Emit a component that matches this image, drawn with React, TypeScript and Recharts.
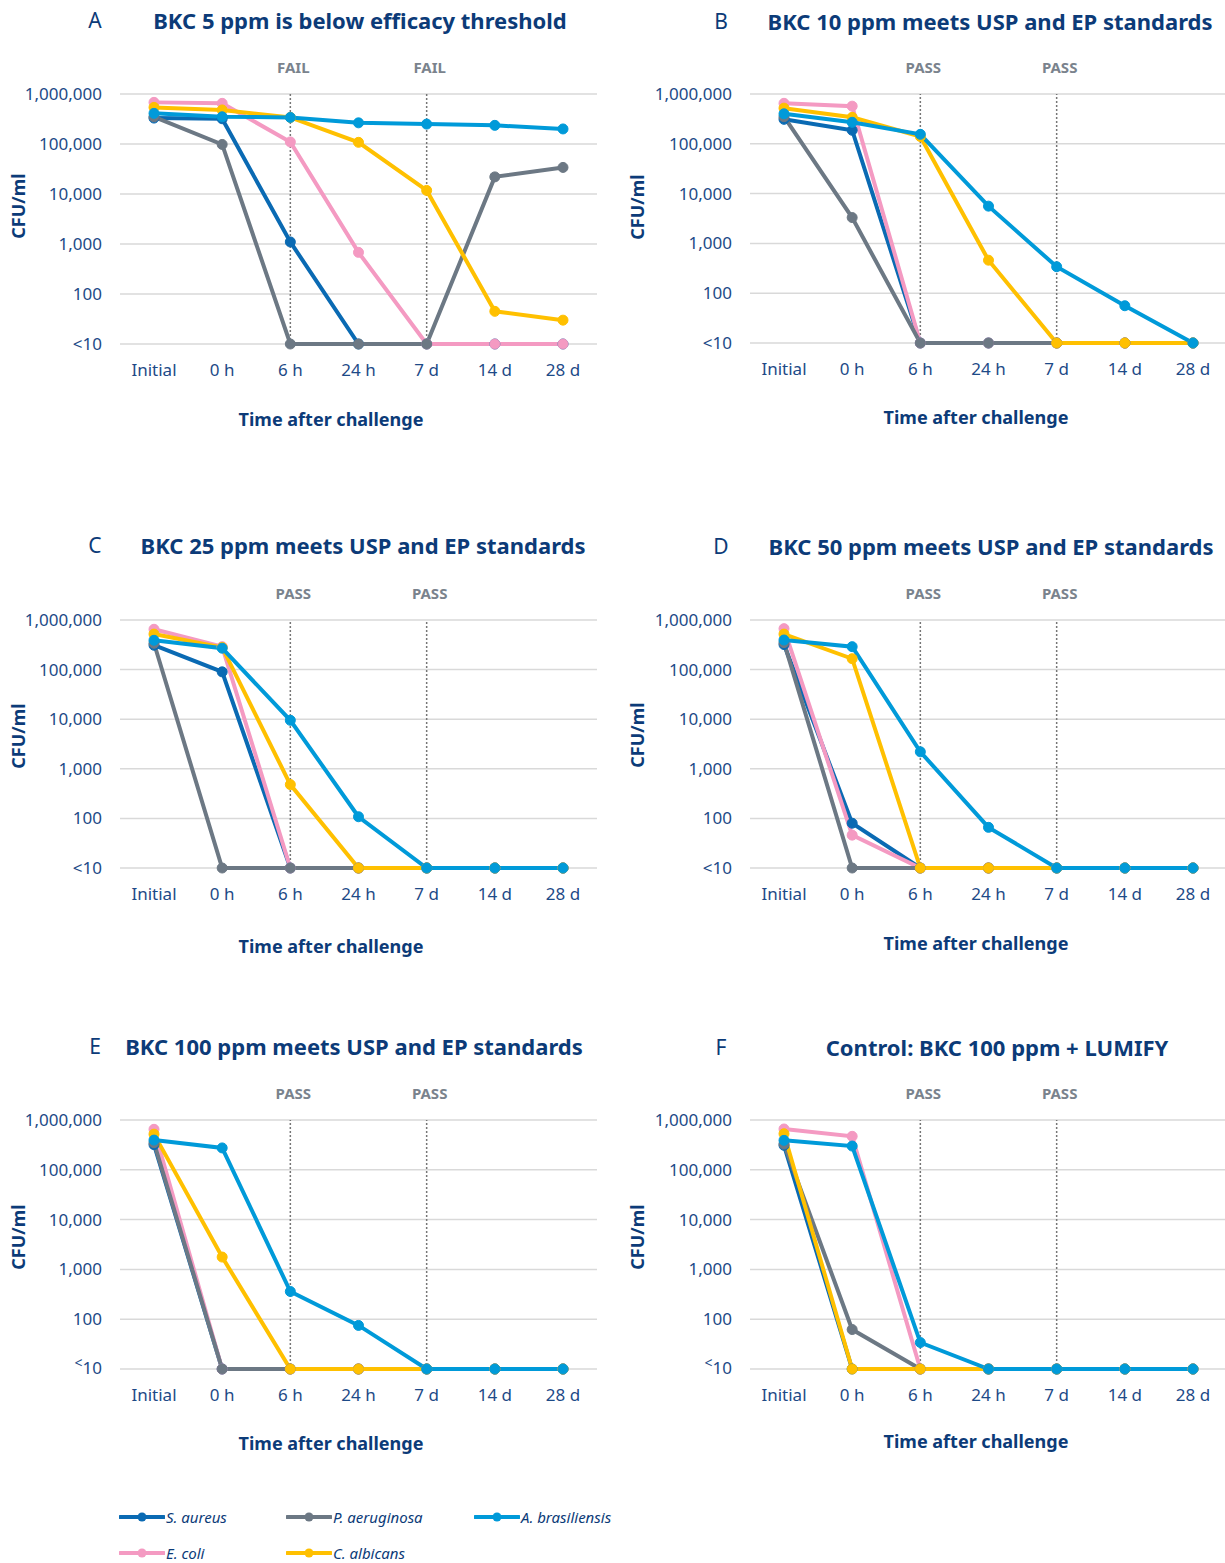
import React from "react";
import { LineChart, Line, XAxis, YAxis, CartesianGrid, ReferenceLine } from "recharts";

// Preservative efficacy: CFU/ml over time after challenge, per organism

const categories = ["Initial", "0 h", "6 h", "24 h", "7 d", "14 d", "28 d"];
const yTicks = [10, 100, 1000, 10000, 100000, 1000000];

// A: BKC 5 ppm
const aureusA = [330000, 320000, 1100, 10, 10, 10, 10];
const aeruginosaA = [350000, 98000, 10, 10, 10, 22000, 34000];
const brasiliensisA = [410000, 350000, 340000, 265000, 250000, 236000, 200000];
const coliA = [680000, 650000, 110000, 680, 10, 10, 10];
const albicansA = [540000, 480000, 340000, 108000, 11800, 45, 30];

// B: BKC 10 ppm
const aureusB = [310000, 187000, 10, 10, 10, 10, 10];
const aeruginosaB = [350000, 3300, 10, 10, 10, 10, 10];
const brasiliensisB = [400000, 270000, 155000, 5600, 340, 56, 10];
const coliB = [650000, 570000, 10, 10, 10, 10, 10];
const albicansB = [520000, 340000, 140000, 460, 10, 10, 10];

// C: BKC 25 ppm
const aureusC = [310000, 90000, 10, 10, 10, 10, 10];
const aeruginosaC = [340000, 10, 10, 10, 10, 10, 10];
const brasiliensisC = [390000, 270000, 9500, 108, 10, 10, 10];
const coliC = [650000, 290000, 10, 10, 10, 10, 10];
const albicansC = [520000, 280000, 480, 10, 10, 10, 10];

// D: BKC 50 ppm
const aureusD = [320000, 80, 10, 10, 10, 10, 10];
const aeruginosaD = [350000, 10, 10, 10, 10, 10, 10];
const brasiliensisD = [395000, 290000, 2200, 66, 10, 10, 10];
const coliD = [670000, 46, 10, 10, 10, 10, 10];
const albicansD = [520000, 166000, 10, 10, 10, 10, 10];

// E: BKC 100 ppm
const aureusE = [320000, 10, 10, 10, 10, 10, 10];
const aeruginosaE = [350000, 10, 10, 10, 10, 10, 10];
const brasiliensisE = [395000, 275000, 360, 75, 10, 10, 10];
const coliE = [650000, 10, 10, 10, 10, 10, 10];
const albicansE = [520000, 1770, 10, 10, 10, 10, 10];

// F: control, BKC 100 ppm + LUMIFY
const aureusF = [310000, 10, 10, 10, 10, 10, 10];
const aeruginosaF = [330000, 62, 10, 10, 10, 10, 10];
const brasiliensisF = [390000, 300000, 34, 10, 10, 10, 10];
const coliF = [660000, 470000, 10, 10, 10, 10, 10];
const albicansF = [530000, 10, 10, 10, 10, 10, 10];

const NAVY = "#0c3b78";
const TICK = "#1d4a87";
const FONT = "'Noto Sans', 'Open Sans', sans-serif";

// drawing order: bottom to top
const organisms = [
  { key: "aureus", name: "S. aureus", color: "#0a6ab3" },
  { key: "coli", name: "E. coli", color: "#f49ac2" },
  { key: "aeruginosa", name: "P. aeruginosa", color: "#6c7884" },
  { key: "albicans", name: "C. albicans", color: "#ffc000" },
  { key: "brasiliensis", name: "A. brasiliensis", color: "#009ad9" },
];
const legendOrder = ["aureus", "aeruginosa", "brasiliensis", "coli", "albicans"];

function buildRows(series: Record<string, number[]>) {
  return categories.map((t, i) => {
    const row: Record<string, string | number> = { t };
    Object.keys(series).forEach((k) => {
      row[k] = series[k][i];
    });
    return row;
  });
}

const panels = [
  {
    letter: "A", title: "BKC 5 ppm is below efficacy threshold", verdict: "FAIL",
    left: 0, plotTop: 94, plotH: 250, letterX: 95, titleX: 360, titleY: 20, axisX: 331, axisY: 419, ylabX: 18, ylabY: 206,
    rows: buildRows({ aureus: aureusA, aeruginosa: aeruginosaA, brasiliensis: brasiliensisA, coli: coliA, albicans: albicansA }),
  },
  {
    letter: "B", title: "BKC 10 ppm meets USP and EP standards", verdict: "PASS",
    left: 630, plotTop: 94, plotH: 249, letterX: 721, titleX: 990, titleY: 21, axisX: 976, axisY: 417, ylabX: 637, ylabY: 207,
    rows: buildRows({ aureus: aureusB, aeruginosa: aeruginosaB, brasiliensis: brasiliensisB, coli: coliB, albicans: albicansB }),
  },
  {
    letter: "C", title: "BKC 25 ppm meets USP and EP standards", verdict: "PASS",
    left: 0, plotTop: 620, plotH: 248, letterX: 95, titleX: 363, titleY: 545, axisX: 331, axisY: 946, ylabX: 18, ylabY: 736,
    rows: buildRows({ aureus: aureusC, aeruginosa: aeruginosaC, brasiliensis: brasiliensisC, coli: coliC, albicans: albicansC }),
  },
  {
    letter: "D", title: "BKC 50 ppm meets USP and EP standards", verdict: "PASS",
    left: 630, plotTop: 620, plotH: 248, letterX: 721, titleX: 991, titleY: 546, axisX: 976, axisY: 943, ylabX: 637, ylabY: 735,
    rows: buildRows({ aureus: aureusD, aeruginosa: aeruginosaD, brasiliensis: brasiliensisD, coli: coliD, albicans: albicansD }),
  },
  {
    letter: "E", title: "BKC 100 ppm meets USP and EP standards", verdict: "PASS", raised: true,
    left: 0, plotTop: 1120, plotH: 249, letterX: 95, titleX: 354, titleY: 1046, axisX: 331, axisY: 1443, ylabX: 18, ylabY: 1237,
    rows: buildRows({ aureus: aureusE, aeruginosa: aeruginosaE, brasiliensis: brasiliensisE, coli: coliE, albicans: albicansE }),
  },
  {
    letter: "F", title: "Control: BKC 100 ppm + LUMIFY", verdict: "PASS", raised: true,
    left: 630, plotTop: 1120, plotH: 249, letterX: 721, titleX: 997, titleY: 1047, axisX: 976, axisY: 1441, ylabX: 637, ylabY: 1237,
    rows: buildRows({ aureus: aureusF, aeruginosa: aeruginosaF, brasiliensis: brasiliensisF, coli: coliF, albicans: albicansF }),
  },
];

function Txt({ x, y, size, weight = 400, color = NAVY, italic = false, rotate = false, children }: any) {
  return (
    <div
      style={{
        position: "absolute", left: x, top: y, whiteSpace: "nowrap",
        transform: `translate(-50%, -50%)${rotate ? " rotate(-90deg)" : ""}`,
        fontSize: size, fontWeight: weight, color, lineHeight: 1,
        fontStyle: italic ? "italic" : "normal",
      }}
    >
      {children}
    </div>
  );
}

function YTick({ x, y, payload, raised }: any) {
  const v = payload.value;
  if (v === 10) {
    return raised ? (
      <text x={x} y={y} dy="0.355em" textAnchor="end" fill={TICK} fontSize={17} fontFamily={FONT}>
        <tspan fontSize={14} dy="-0.1em">&lt;</tspan>
        <tspan dy="0.4em">10</tspan>
      </text>
    ) : (
      <text x={x} y={y} dy="0.355em" textAnchor="end" fill={TICK} fontSize={17} fontFamily={FONT}>&lt;10</text>
    );
  }
  return (
    <text x={x} y={y} dy="0.355em" textAnchor="end" fill={TICK} fontSize={17} fontFamily={FONT}>
      {v.toLocaleString("en-US")}
    </text>
  );
}

function Panel({ p }: any) {
  const width = p.left === 0 ? 612 : 597;
  const right = p.left === 0 ? 15 : 0;
  const refLabel = {
    value: p.verdict, position: "top" as const, offset: 21, dx: 3,
    fill: "#7a838d", fontSize: 15, fontWeight: 700, fontFamily: FONT,
  };
  return (
    <>
      <div style={{ position: "absolute", left: p.left, top: p.plotTop - 94 }}>
        <LineChart width={width} height={94 + p.plotH + 50} data={p.rows} margin={{ top: 94, right, bottom: 0, left: 0 }}>
          <CartesianGrid vertical={false} stroke="#d9d9d9" strokeWidth={1.5} />
          <XAxis
            dataKey="t" interval={0} padding={{ left: 34, right: 34 }} height={50}
            axisLine={false} tickLine={false} tickSize={0} tickMargin={20}
            tick={{ fill: TICK, fontSize: 17, fontFamily: FONT }}
          />
          <YAxis
            type="number" scale="log" domain={[10, 1000000]} ticks={yTicks} width={120}
            axisLine={false} tickLine={false} tickSize={0} tickMargin={18}
            tick={(props: any) => <YTick {...props} raised={p.raised} />}
          />
          <ReferenceLine x="6 h" stroke="#767676" strokeWidth={1.5} strokeDasharray="2 2" label={refLabel} />
          <ReferenceLine x="7 d" stroke="#767676" strokeWidth={1.5} strokeDasharray="2 2" label={refLabel} />
          {organisms.map((o) => (
            <Line
              key={o.key} dataKey={o.key} name={o.name} type="linear"
              stroke={o.color} strokeWidth={4}
              dot={{ r: 5, fill: o.color, stroke: o.color, strokeWidth: 1 }}
              activeDot={false} isAnimationActive={false}
            />
          ))}
        </LineChart>
      </div>
      <Txt x={p.letterX} y={p.titleY} size={21}>{p.letter}</Txt>
      <Txt x={p.titleX} y={p.titleY} size={22} weight={700}>{p.title}</Txt>
      <Txt x={p.axisX} y={p.axisY} size={18} weight={700}>Time after challenge</Txt>
      <Txt x={p.ylabX} y={p.ylabY} size={18} weight={700} rotate>CFU/ml</Txt>
    </>
  );
}

const legendSlots = [
  { x: 119, y: 1517 }, { x: 286, y: 1517 }, { x: 474, y: 1517 },
  { x: 119, y: 1553 }, { x: 286, y: 1553 },
];

export default function App() {
  return (
    <div
      style={{
        position: "absolute", left: 0, top: 0, width: 1225, height: 1563,
        overflow: "hidden", background: "#fff", fontFamily: FONT,
      }}
    >
      {panels.map((p) => (
        <Panel key={p.letter} p={p} />
      ))}
      {legendOrder.map((k, i) => {
        const o = organisms.find((d) => d.key === k)!;
        const s = legendSlots[i];
        return (
          <div key={k} style={{ position: "absolute", left: s.x, top: s.y - 10, height: 20, display: "flex", alignItems: "center" }}>
            <svg width={46} height={12}>
              <line x1={1} y1={6} x2={45} y2={6} stroke={o.color} strokeWidth={4} strokeLinecap="round" />
              <circle cx={23} cy={6} r={4.5} fill={o.color} />
            </svg>
            <span style={{ fontSize: 15, fontStyle: "italic", color: NAVY, marginLeft: 1 }}>{o.name}</span>
          </div>
        );
      })}
    </div>
  );
}
